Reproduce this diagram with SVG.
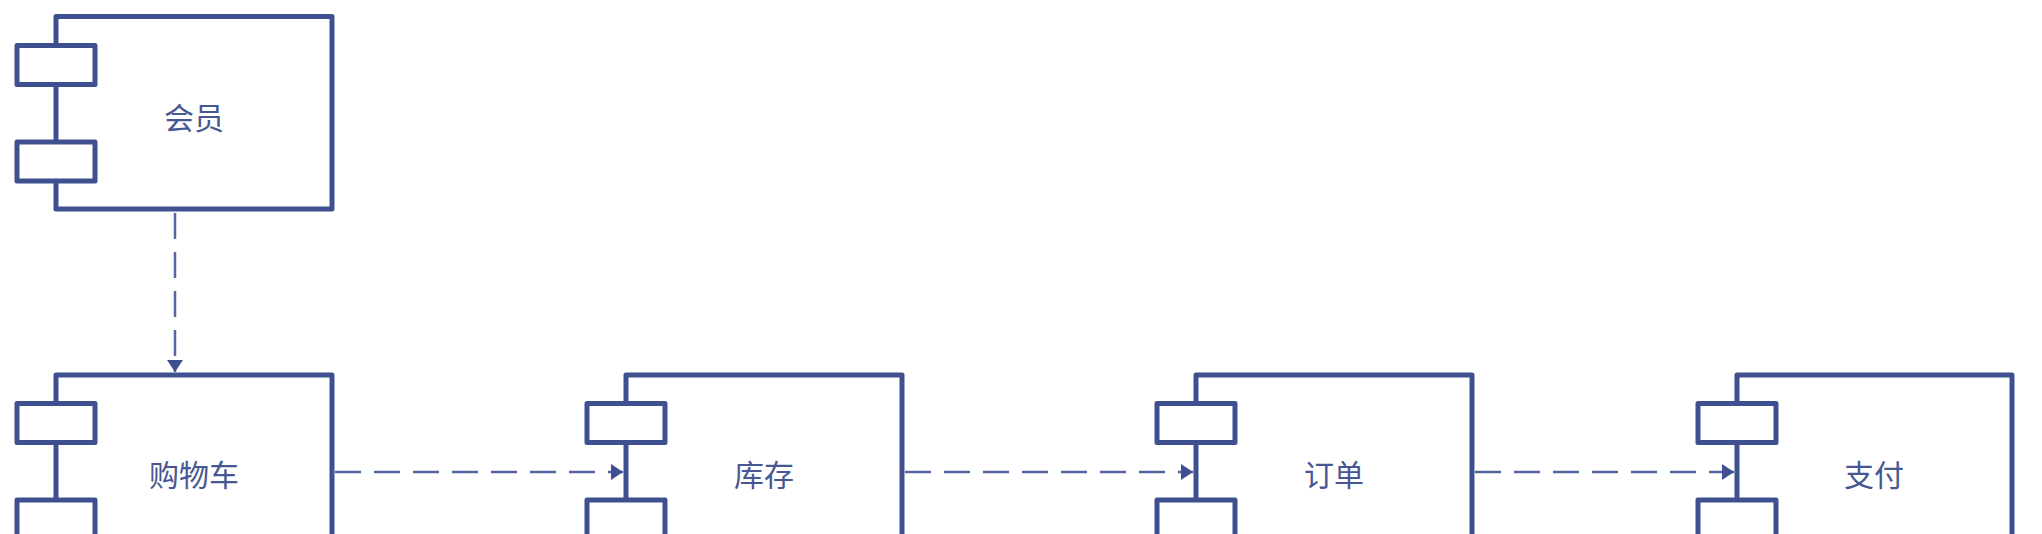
<svg xmlns="http://www.w3.org/2000/svg" width="2042" height="534" viewBox="0 0 2042 534">
  <style>
    .body { fill: #ffffff; stroke: #3e5090; stroke-width: 5; stroke-linejoin: round; }
    .port { fill: #ffffff; stroke: #3e5090; stroke-width: 5; stroke-linejoin: round; }
    .label { font-family: "Noto Sans CJK SC", "Noto Sans", sans-serif; font-size: 30px; fill: #475791; text-anchor: middle; dominant-baseline: central; }
    .dep { fill: none; stroke: #5566a0; stroke-width: 2.5; stroke-dasharray: 26 13; }
  </style>
  <defs>
    <marker id="arrow" markerUnits="userSpaceOnUse" markerWidth="13" markerHeight="16" refX="12" refY="8" orient="auto">
      <path d="M0,0 L12,8 L0,16 z" fill="#3e5090"/>
    </marker>
  </defs>
  <rect width="2042" height="534" fill="#ffffff"/>

  <g id="connectors">
    <path class="dep" d="M175,213 V372" marker-end="url(#arrow)"/>
    <path class="dep" d="M335,472 H623" marker-end="url(#arrow)"/>
    <path class="dep" d="M905,472 H1193" marker-end="url(#arrow)"/>
    <path class="dep" d="M1475,472 H1734" marker-end="url(#arrow)"/>
  </g>

  <g id="member">
    <rect class="body" x="56" y="16.5" width="276" height="192.5"/>
    <rect class="port" x="17" y="45.5" width="78" height="39"/>
    <rect class="port" x="17" y="142" width="78" height="39"/>
    <text class="label" x="194" y="116">会员</text>
  </g>

  <g id="cart">
    <rect class="body" x="56" y="375" width="276" height="192.5"/>
    <rect class="port" x="17" y="403.5" width="78" height="39"/>
    <rect class="port" x="17" y="500" width="78" height="39"/>
    <text class="label" x="194" y="473">购物车</text>
  </g>

  <g id="inventory">
    <rect class="body" x="626" y="375" width="276" height="192.5"/>
    <rect class="port" x="587" y="403.5" width="78" height="39"/>
    <rect class="port" x="587" y="500" width="78" height="39"/>
    <text class="label" x="764" y="473">库存</text>
  </g>

  <g id="order">
    <rect class="body" x="1196" y="375" width="276" height="192.5"/>
    <rect class="port" x="1157" y="403.5" width="78" height="39"/>
    <rect class="port" x="1157" y="500" width="78" height="39"/>
    <text class="label" x="1334" y="473">订单</text>
  </g>

  <g id="payment">
    <rect class="body" x="1737" y="375" width="275" height="192.5"/>
    <rect class="port" x="1698" y="403.5" width="78" height="39"/>
    <rect class="port" x="1698" y="500" width="78" height="39"/>
    <text class="label" x="1874" y="473">支付</text>
  </g>
</svg>
